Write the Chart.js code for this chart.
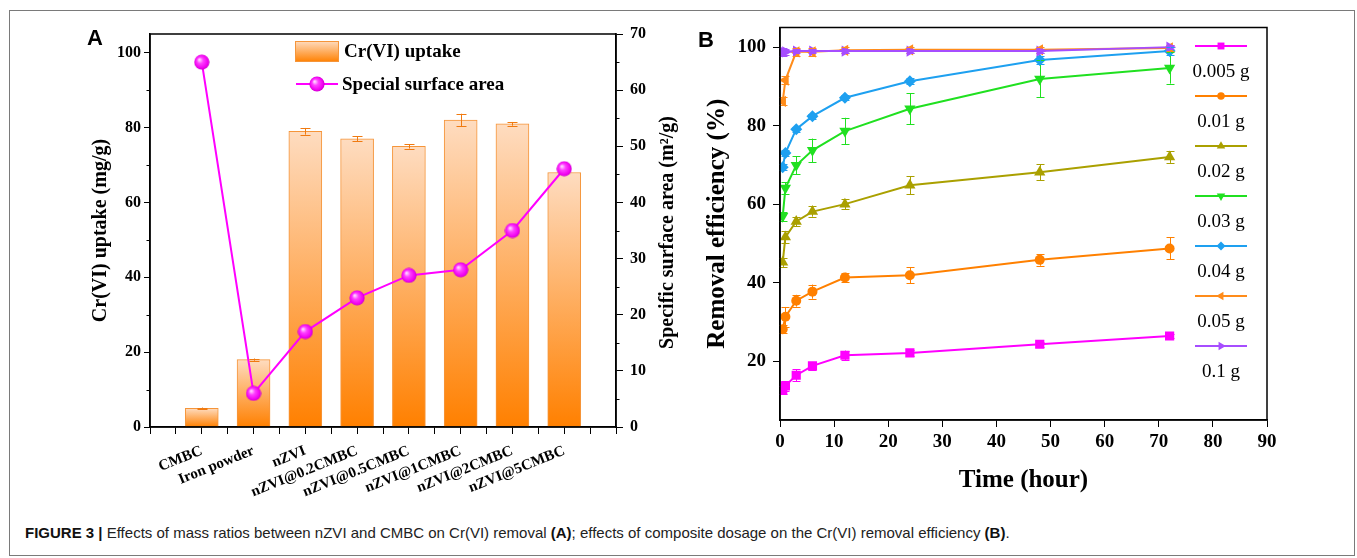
<!DOCTYPE html>
<html>
<head>
<meta charset="utf-8">
<script src="https://cdn.jsdelivr.net/npm/chart.js@4.4.1/dist/chart.umd.min.js"></script>
<style>
  body { margin: 0; background: #fff; width: 1357px; height: 558px; overflow: hidden; position: relative; font-family: "Liberation Sans", Arial, sans-serif; }
  #frame { position: absolute; left: 9px; top: 10px; width: 1344px; height: 544px; border: 1px solid #7a7a7a; }
  #boxA { position: absolute; left: 0; top: 0; }
  #boxB { position: absolute; left: 690px; top: 0; }
  .tag { position: absolute; font: bold 22px/22px "Liberation Sans", Arial, sans-serif; color: #000; }
  #caption { position: absolute; left: 25px; top: 524px; font-size: 15px; line-height: 18px; color: #222; white-space: nowrap; }
  #caption b { color: #111; }
</style>
</head>
<body>
<div id="frame"></div>
<div id="boxA"><canvas id="chartA" width="700" height="500"></canvas></div>
<div id="boxB"><canvas id="chartB" width="600" height="502"></canvas></div>
<div class="tag" style="left:87px;top:27px">A</div>
<div class="tag" style="left:698px;top:29px">B</div>
<div id="caption"><b>FIGURE 3 |</b> Effects of mass ratios between nZVI and CMBC on Cr(VI) removal <b>(A)</b>; effects of composite dosage on the Cr(VI) removal efficiency <b>(B)</b>.</div>

<script>
// ---- panel A data
const cats = ['CMBC', 'Iron powder', 'nZVI', 'nZVI@0.2CMBC', 'nZVI@0.5CMBC', 'nZVI@1CMBC', 'nZVI@2CMBC', 'nZVI@5CMBC'];
const catPos = [0, 1, 2, 3, 4, 5, 6, 7];
const uptake = [5, 18, 79, 77, 75, 82, 81, 68];
const uptakeErr = [0.2, 0.3, 0.9, 0.7, 0.6, 1.7, 0.5, 0];
const surfaceArea = [65, 6, 17, 23, 27, 28, 35, 46];
const ticksA = [0, 20, 40, 60, 80, 100];
const minorA = [10, 30, 50, 70, 90];
const ticksA1 = [0, 10, 20, 30, 40, 50, 60, 70];
const minorA1 = [5, 15, 25, 35, 45, 55, 65];

// ---- panel B data
const hours = [0.5, 1, 3, 6, 12, 24, 48, 72];
const dosages = ['0.005 g', '0.01 g', '0.02 g', '0.03 g', '0.04 g', '0.05 g', '0.1 g'];
const eff0005 = [12.6, 13.7, 16.4, 18.8, 21.5, 22.1, 24.3, 26.4];
const eff001 = [28.1, 31.3, 35.4, 37.7, 41.3, 41.9, 45.8, 48.7];
const eff002 = [45.2, 51.6, 55.6, 58.1, 60.0, 64.8, 68.1, 72.0];
const eff003 = [56.9, 64.1, 69.9, 73.7, 78.6, 84.3, 91.9, 94.7];
const eff004 = [69.4, 73.0, 79.1, 82.4, 87.1, 91.3, 96.7, 99.0];
const eff005 = [86.2, 91.6, 98.8, 98.8, 99.2, 99.3, 99.3, 99.8];
const eff01 = [98.8, 98.8, 99.0, 99.0, 99.0, 99.0, 99.0, 100.0];
const err0005 = [1.0, 1.2, 1.5, 1.0, 1.2, 0.8, 0.6, 0.6];
const err001 = [1.0, 2.5, 1.5, 1.8, 1.2, 2.0, 1.5, 2.8];
const err002 = [1.2, 1.5, 1.2, 1.3, 1.3, 2.3, 2.0, 1.5];
const err003 = [1.2, 1.5, 2.3, 3.0, 3.4, 4.0, 4.7, 4.0];
const err004 = [0.8, 0.8, 0.6, 0.6, 0.6, 0.8, 1.0, 1.0];
const err005 = [1.0, 1.0, 1.0, 1.0, 0.8, 0.8, 0.8, 0.8];
const err01 = [1.0, 0.8, 0.6, 0.6, 0.6, 0.6, 0.6, 0.6];
const ticksBx = [0, 10, 20, 30, 40, 50, 60, 70, 80, 90];
const ticksBy = [20, 40, 60, 80, 100];

Chart.defaults.font.family = '"Liberation Serif", "Times New Roman", serif';
Chart.defaults.color = '#000';

// shaded ball marker
const sphere = document.createElement('canvas');
sphere.width = 16; sphere.height = 16;
(function () {
  const c = sphere.getContext('2d');
  const g = c.createRadialGradient(5.5, 5.5, 0.5, 8, 8, 8);
  g.addColorStop(0, '#ffd6ff');
  g.addColorStop(0.35, '#ff40ff');
  g.addColorStop(0.8, '#f000f0');
  g.addColorStop(1, '#c000c0');
  c.fillStyle = g;
  c.beginPath(); c.arc(8, 8, 7.6, 0, Math.PI * 2); c.fill();
})();

function barFill(c) {
  const chart = c.chart;
  if (!chart.chartArea || !c.raw) return '#ff9a40';
  const y = chart.scales.y;
  const top = y.getPixelForValue(c.raw.y), bot = y.getPixelForValue(0);
  const g = chart.ctx.createLinearGradient(0, top, 0, bot);
  g.addColorStop(0, '#fedcc0');
  g.addColorStop(1, '#ff8000');
  return g;
}

// error bars from dataset.errors
const errorBars = {
  id: 'errorBars',
  afterDatasetsDraw(chart, args, opts) {
    const ctx = chart.ctx;
    chart.data.datasets.forEach((ds, di) => {
      if (!ds.errors) return;
      const meta = chart.getDatasetMeta(di);
      const ys = chart.scales[meta.yAxisID];
      ctx.save();
      ctx.strokeStyle = ds.errColor || ds.borderColor;
      ctx.lineWidth = 1;
      meta.data.forEach((el, i) => {
        const e = ds.errors[i];
        if (!e) return;
        const v = ds.data[i].y;
        const x = Math.round(el.x) + 0.5;
        const y1 = ys.getPixelForValue(v + e), y2 = ys.getPixelForValue(v - e);
        const w = opts.cap || 4;
        ctx.beginPath();
        ctx.moveTo(x, y1); ctx.lineTo(x, y2);
        ctx.moveTo(x - w, Math.round(y1) + 0.5); ctx.lineTo(x + w, Math.round(y1) + 0.5);
        ctx.moveTo(x - w, Math.round(y2) + 0.5); ctx.lineTo(x + w, Math.round(y2) + 0.5);
        ctx.stroke();
      });
      ctx.restore();
    });
  }
};

const frameBox = {
  id: 'frameBox',
  afterDraw(chart) {
    const { ctx, chartArea: a } = chart;
    ctx.save();
    ctx.strokeStyle = '#000';
    ctx.lineWidth = 1.5;
    ctx.strokeRect(a.left, a.top, a.right - a.left, a.bottom - a.top);
    ctx.restore();
  }
};

// minor ticks + right title + legend for panel A
const extrasA = {
  id: 'extrasA',
  afterDraw(chart) {
    const { ctx, chartArea: a, scales } = chart;
    ctx.save();
    ctx.strokeStyle = '#000';
    ctx.lineWidth = 1;
    ctx.beginPath();
    minorA.forEach(v => { const p = Math.round(scales.y.getPixelForValue(v)) + 0.5; ctx.moveTo(a.left, p); ctx.lineTo(a.left - 3.5, p); });
    minorA1.forEach(v => { const p = Math.round(scales.y1.getPixelForValue(v)) + 0.5; ctx.moveTo(a.right, p); ctx.lineTo(a.right + 3.5, p); });
    ctx.stroke();

    // right axis title, reading bottom to top
    ctx.translate(668, (a.top + a.bottom) / 2 + 2);
    ctx.rotate(-Math.PI / 2);
    ctx.font = 'bold 20px "Liberation Serif", serif';
    ctx.fillStyle = '#000';
    ctx.textAlign = 'center';
    ctx.textBaseline = 'middle';
    ctx.fillText('Specific surface area (m\u00b2/g)', 0, 0);
    ctx.restore();

    // legend
    ctx.save();
    const g = ctx.createLinearGradient(0, 41, 0, 62);
    g.addColorStop(0, '#fedcc0'); g.addColorStop(1, '#ff8000');
    ctx.fillStyle = g;
    ctx.fillRect(295, 41, 44, 21);
    ctx.strokeStyle = '#f5953a'; ctx.lineWidth = 1;
    ctx.strokeRect(295.5, 41.5, 43, 20);
    ctx.strokeStyle = '#ff00ff'; ctx.lineWidth = 2;
    ctx.beginPath(); ctx.moveTo(296, 84); ctx.lineTo(338, 84); ctx.stroke();
    ctx.drawImage(sphere, 317 - 8, 84 - 8);
    ctx.fillStyle = '#000';
    ctx.font = 'bold 19px "Liberation Serif", serif';
    ctx.textBaseline = 'middle';
    ctx.fillText(chart.data.datasets[1].label, 344, 52);
    ctx.fillText(chart.data.datasets[0].label, 342, 85);
    ctx.restore();
  }
};

const chartA = new Chart(document.getElementById('chartA'), {
  type: 'bar',
  data: {
    datasets: [
      {
        type: 'line',
        label: 'Special surface area',
        data: catPos.map((x, i) => ({ x: x, y: surfaceArea[i] })),
        yAxisID: 'y1',
        borderColor: '#ff00ff',
        borderWidth: 2,
        pointStyle: sphere,
        order: 0
      },
      {
        label: 'Cr(VI) uptake',
        data: catPos.map((x, i) => ({ x: x, y: uptake[i] })),
        errors: uptakeErr,
        errColor: '#f07a10',
        yAxisID: 'y',
        backgroundColor: barFill,
        borderColor: '#f5953a',
        borderWidth: 1,
        barThickness: 33,
        order: 1
      }
    ]
  },
  options: {
    responsive: false,
    animation: false,
    layout: { padding: { left: 85, right: 16, top: 34, bottom: 3 } },
    plugins: { legend: { display: false }, tooltip: { enabled: false }, errorBars: { cap: 5 } },
    scales: {
      x: {
        type: 'linear', min: -1, max: 8, offset: false,
        grid: { offset: false, drawOnChartArea: false, color: '#000', tickLength: 7 },
        border: { color: '#000', width: 1.5 },
        ticks: {
          stepSize: 0.5, autoSkip: false, maxRotation: 22, minRotation: 22, padding: 8,
          font: { size: 15, weight: 'bold' },
          callback: v => cats[v] ?? ''
        },
        afterFit: s => { s.height = 70; }
      },
      y: {
        position: 'left', min: 0, max: 105,
        afterBuildTicks: s => { s.ticks = ticksA.map(v => ({ value: v })); },
        grid: { drawOnChartArea: false, color: '#000', tickLength: 6 },
        border: { color: '#000', width: 1.5 },
        ticks: { padding: 3, font: { size: 16, weight: 'bold' } },
        title: { display: true, text: 'Cr(VI) uptake (mg/g)', font: { size: 20, weight: 'bold' }, padding: { top: 4, bottom: 4 } },
        afterFit: s => { s.width = 65; }
      },
      y1: {
        position: 'right', min: 0, max: 70,
        afterBuildTicks: s => { s.ticks = ticksA1.map(v => ({ value: v })); },
        grid: { drawOnChartArea: false, color: '#000', tickLength: 7 },
        border: { color: '#000', width: 1.5 },
        ticks: { padding: 7, font: { size: 16, weight: 'bold' } },
        afterFit: s => { s.width = 68; }
      }
    }
  },
  plugins: [errorBars, frameBox, extrasA]
});

// ---- panel B
const seriesB = [eff0005, eff001, eff002, eff003, eff004, eff005, eff01];
const errB = [err0005, err001, err002, err003, err004, err005, err01];
const colorsB = ['#ff00ff', '#ff8000', '#aaa000', '#20e020', '#1ea0f0', '#ff8c1a', '#a64dff'];
const stylesB = ['rect', 'circle', 'triangle', 'triangle', 'rectRot', 'triangle', 'triangle'];
const rotB = [0, 0, 0, 180, 0, -90, 90];
const radB = [6.5, 5, 6.5, 6.5, 6, 6.5, 6.5];

const legendB = {
  id: 'legendB',
  afterDraw(chart) {
    const ctx = chart.ctx;
    const x0 = 505, x1 = 557, xm = 531;
    ctx.save();
    chart.data.datasets.forEach((ds, i) => {
      const y = 46 + i * 50;
      ctx.strokeStyle = ds.borderColor;
      ctx.lineWidth = 2;
      ctx.beginPath(); ctx.moveTo(x0, y); ctx.lineTo(x1, y); ctx.stroke();
      ctx.fillStyle = ds.borderColor;
      Chart.helpers.drawPoint(ctx, { pointStyle: ds.pointStyle, rotation: ds.pointRotation, radius: ds.pointRadius * 0.75, borderWidth: 0 }, xm, y);
      ctx.fillStyle = '#000';
      ctx.font = '19px "Liberation Serif", serif';
      ctx.textAlign = 'center';
      ctx.textBaseline = 'middle';
      ctx.fillText(ds.label, xm, y + 26);
    });
    ctx.restore();
  }
};

const chartB = new Chart(document.getElementById('chartB'), {
  type: 'line',
  data: {
    datasets: dosages.map((d, i) => ({
      label: d,
      data: hours.map((h, j) => ({ x: h, y: seriesB[i][j] })),
      errors: errB[i],
      borderColor: colorsB[i],
      backgroundColor: colorsB[i],
      borderWidth: 2,
      pointStyle: stylesB[i],
      pointRotation: rotB[i],
      pointRadius: radB[i],
      pointBorderWidth: 0,
      order: 6 - i
    }))
  },
  options: {
    responsive: false,
    animation: false,
    layout: { padding: { left: 9, right: 23, top: 27.5, bottom: 2 } },
    plugins: { legend: { display: false }, tooltip: { enabled: false }, errorBars: { cap: 4 } },
    scales: {
      x: {
        type: 'linear', min: 0, max: 90,
        afterBuildTicks: s => { s.ticks = ticksBx.map(v => ({ value: v })); },
        grid: { drawOnChartArea: false, color: '#000', tickLength: 7 },
        border: { color: '#000', width: 1.5 },
        ticks: { padding: 4, font: { size: 19, weight: 'bold' } },
        title: { display: true, text: 'Time (hour)', font: { size: 25, weight: 'bold' }, padding: { top: 4, bottom: 4 } },
        afterFit: s => { s.height = 80; }
      },
      y: {
        min: 5, max: 105,
        afterBuildTicks: s => { s.ticks = ticksBy.map(v => ({ value: v })); },
        grid: { drawOnChartArea: false, color: '#000', tickLength: 7 },
        border: { color: '#000', width: 1.5 },
        ticks: { padding: 7, font: { size: 19, weight: 'bold' } },
        title: { display: true, text: 'Removal efficiency (%)', font: { size: 25, weight: 'bold' }, padding: { top: 4, bottom: 4 } },
        afterFit: s => { s.width = 81; }
      }
    }
  },
  plugins: [errorBars, frameBox, legendB]
});
</script>
</body>
</html>
